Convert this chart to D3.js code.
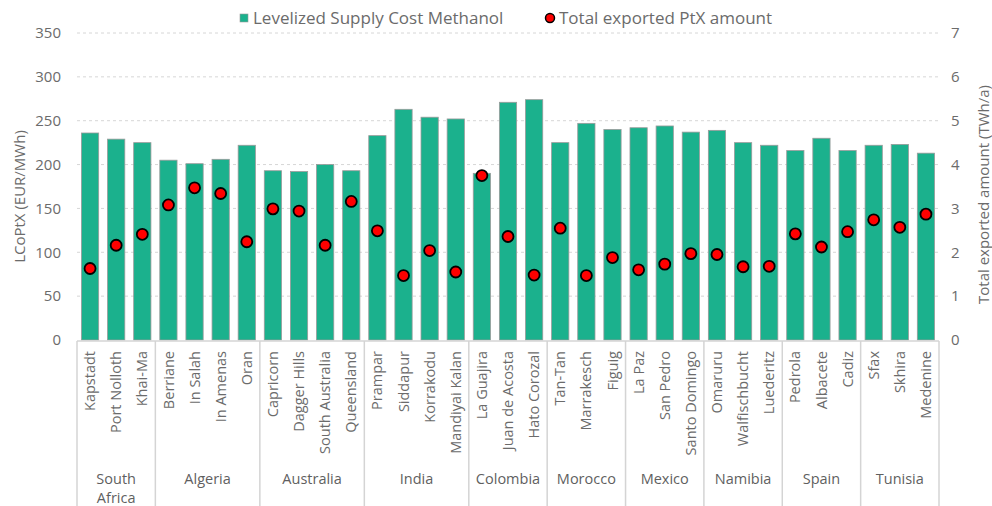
<!DOCTYPE html>
<html>
<head>
<meta charset="utf-8">
<script src="https://cdn.jsdelivr.net/npm/d3@7"></script>
<style>
  body { margin: 0; background: #fff; }
  text { font-family: "Open Sans", "Noto Sans", sans-serif; }
</style>
</head>
<body>
<div id="viz"></div>
<script>
// Standorte und Länder
const sites = ["Kapstadt", "Port Nolloth", "Khai-Ma",
  "Berriane", "In Salah", "In Amenas", "Oran",
  "Capricorn", "Dagger Hills", "South Australia", "Queensland",
  "Prampar", "Siddapur", "Korrakodu", "Mandiyai Kalan",
  "La Guajira", "Juan de Acosta", "Hato Corozal",
  "Tan-Tan", "Marrakesch", "Figuig",
  "La Paz", "San Pedro", "Santo Domingo",
  "Omaruru", "Walfischbucht", "Luederitz",
  "Pedrola", "Albacete", "Cadiz",
  "Sfax", "Skhira", "Medenine"];
const countries = ["South Africa", "Algeria", "Australia", "India", "Colombia",
  "Morocco", "Mexico", "Namibia", "Spain", "Tunisia"];
const sitesPerCountry = [3, 4, 4, 4, 3, 3, 3, 3, 3, 3];

// LCoPtX Methanol (EUR/MWh)
const supplyCost = [236, 229, 225, 205, 201, 206, 222, 193, 192, 200, 193,
  233, 263, 254, 252, 190, 271, 274, 225, 247, 240, 242, 244, 237,
  239, 225, 222, 216, 230, 216, 222, 223, 213];
// exportierte Menge (TWh/a)
const exported = [1.63, 2.16, 2.41, 3.08, 3.47, 3.34, 2.24, 2.99, 2.94, 2.16, 3.16,
  2.49, 1.47, 2.04, 1.55, 3.75, 2.36, 1.48, 2.55, 1.47, 1.88, 1.60, 1.73, 1.97,
  1.95, 1.67, 1.68, 2.42, 2.12, 2.47, 2.74, 2.57, 2.87];

const leftTicks = [0, 50, 100, 150, 200, 250, 300, 350];
const rightTicks = [0, 1, 2, 3, 4, 5, 6, 7];

const W = 992, H = 506;
const x0 = 77, x1 = 939, yTop = 33, yBot = 340;
const grey = "#6b6b6b";

const svg = d3.select("#viz").append("svg")
  .attr("width", W).attr("height", H);

const x = d3.scaleBand().domain(sites).range([x0, x1])
  .paddingInner(0.34).paddingOuter(0.17);
const y = d3.scaleLinear().domain([0, 350]).range([yBot, yTop]);
const y2 = d3.scaleLinear().domain([0, 7]).range([yBot, yTop]);

// Gitterlinien
svg.append("g").selectAll("line").data(leftTicks.slice(1)).join("line")
  .attr("x1", x0).attr("x2", x1)
  .attr("y1", d => y(d)).attr("y2", d => y(d))
  .attr("stroke", "#d6d6d6").attr("stroke-dasharray", "3,3");

// linke Achse
const yAxis = svg.append("g").attr("transform", `translate(${x0 - 6},0)`)
  .call(d3.axisLeft(y).tickValues(leftTicks).tickSize(0).tickPadding(10));
yAxis.select(".domain").remove();
yAxis.selectAll("text").attr("fill", grey).attr("font-size", 15)
  .style("font-family", "'Open Sans', sans-serif");

// rechte Achse
const yAxis2 = svg.append("g").attr("transform", `translate(${x1 + 2},0)`)
  .call(d3.axisRight(y2).tickValues(rightTicks).tickFormat(d3.format("d"))
    .tickSize(0).tickPadding(10));
yAxis2.select(".domain").remove();
yAxis2.selectAll("text").attr("fill", grey).attr("font-size", 15)
  .style("font-family", "'Open Sans', sans-serif");

// Achsentitel
svg.append("text")
  .attr("transform", `translate(20,${(yTop + yBot) / 2 + 10}) rotate(-90)`)
  .attr("text-anchor", "middle").attr("dy", "0.35em")
  .attr("fill", grey).attr("font-size", 15)
  .text("LCoPtX (EUR/MWh)");
svg.append("text")
  .attr("transform", `translate(984,${(yTop + yBot) / 2 + 8}) rotate(-90)`)
  .attr("text-anchor", "middle").attr("dy", "0.35em")
  .attr("fill", grey).attr("font-size", 15)
  .text("Total exported amount (TWh/a)");

// Balken
svg.append("g").selectAll("rect").data(sites).join("rect")
  .attr("x", d => x(d))
  .attr("y", (d, i) => y(supplyCost[i]))
  .attr("width", x.bandwidth())
  .attr("height", (d, i) => y(0) - y(supplyCost[i]))
  .attr("fill", "#1bb18d")
  .attr("stroke", "#9a9a9a").attr("stroke-width", 0.8);

// Punkte
svg.append("g").selectAll("circle").data(sites).join("circle")
  .attr("cx", d => x(d) + x.bandwidth() / 2)
  .attr("cy", (d, i) => y2(exported[i]))
  .attr("r", 5.5)
  .attr("fill", "#ff0000")
  .attr("stroke", "#000").attr("stroke-width", 1.8);

// x-Achse Grundlinie
svg.append("line")
  .attr("x1", x0).attr("x2", x1).attr("y1", yBot + 1).attr("y2", yBot + 1)
  .attr("stroke", "#d4d4d4").attr("stroke-width", 1.5);

// Standortbeschriftungen
svg.append("g").selectAll("text").data(sites).join("text")
  .attr("transform", d => `translate(${x(d) + x.bandwidth() / 2},351) rotate(-90)`)
  .attr("text-anchor", "end").attr("dy", "0.35em")
  .attr("fill", grey).attr("font-size", 14.5)
  .text(d => d);

// Ländergruppen
const step = x.step();
let start = 0;
const groups = countries.map((c, i) => {
  const s = start;
  start += sitesPerCountry[i];
  return { name: c, from: x(sites[s]) - step * x.paddingInner() / 2,
    to: x(sites[start - 1]) + x.bandwidth() + step * x.paddingInner() / 2 };
});
groups[0].from = x0;
groups[groups.length - 1].to = x1;

const bounds = [x0].concat(groups.map(g => g.to));
svg.append("g").selectAll("line").data(bounds).join("line")
  .attr("x1", d => d).attr("x2", d => d)
  .attr("y1", yBot + 1).attr("y2", H)
  .attr("stroke", "#d4d4d4").attr("stroke-width", 1.5);

const gl = svg.append("g").selectAll("text").data(groups).join("text")
  .attr("x", d => (d.from + d.to) / 2)
  .attr("y", 479)
  .attr("text-anchor", "middle").attr("dy", "0.35em")
  .attr("fill", "#5f5f5f").attr("font-size", 14.5);
gl.each(function (d) {
  const t = d3.select(this).text(d.name);
  if (this.getComputedTextLength() > d.to - d.from - 4 && d.name.includes(" ")) {
    const words = d.name.split(" ");
    t.text(null);
    words.forEach((w, k) => {
      t.append("tspan").attr("x", (d.from + d.to) / 2)
        .attr("dy", k === 0 ? "0.35em" : "1.3em").text(w);
    });
  }
});

// Legende
const leg = svg.append("g").attr("font-size", 17).attr("fill", grey);
leg.append("rect").attr("x", 240).attr("y", 14).attr("width", 8).attr("height", 8)
  .attr("fill", "#1bb18d").attr("stroke", "#9a9a9a").attr("stroke-width", 0.6);
leg.append("text").attr("x", 253).attr("y", 18).attr("dy", "0.35em")
  .text("Levelized Supply Cost Methanol");
leg.append("circle").attr("cx", 550).attr("cy", 18).attr("r", 4.5)
  .attr("fill", "#ff0000").attr("stroke", "#000").attr("stroke-width", 1.5);
leg.append("text").attr("x", 559).attr("y", 18).attr("dy", "0.35em")
  .text("Total exported PtX amount");
</script>
</body>
</html>
